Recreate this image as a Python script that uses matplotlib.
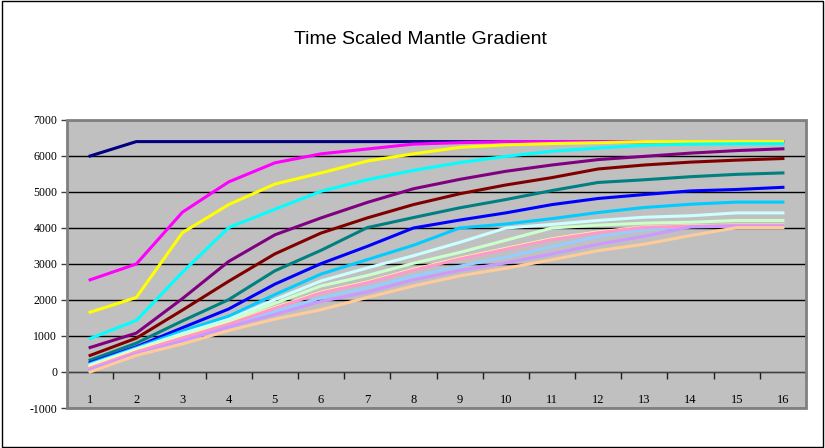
import matplotlib.pyplot as plt
from matplotlib.patches import Rectangle
import numpy as np

plt.rcParams['axes.unicode_minus'] = False

CATEGORIES = list(range(1, 17))
TITLE = "Time Scaled Mantle Gradient"

# one list per series, in Excel default line colour order
navy = [6000, 6400, 6400, 6400, 6400, 6400, 6400, 6400, 6400, 6400, 6400, 6400, 6400, 6400, 6400, 6400]
magenta = [2560, 3000, 4440, 5280, 5810, 6060, 6195, 6330, 6370, 6400, 6400, 6400, 6400, 6400, 6400, 6400]
yellow = [1660, 2070, 3870, 4650, 5220, 5530, 5860, 6060, 6240, 6310, 6345, 6370, 6400, 6400, 6400, 6400]
cyan = [930, 1430, 2770, 4010, 4520, 5020, 5340, 5600, 5815, 5990, 6130, 6220, 6300, 6330, 6340, 6340]
purple = [680, 1080, 2040, 3070, 3810, 4280, 4710, 5090, 5350, 5575, 5750, 5900, 5990, 6080, 6150, 6200]
maroon = [460, 940, 1720, 2520, 3280, 3860, 4280, 4650, 4950, 5195, 5400, 5640, 5750, 5830, 5885, 5930]
teal = [330, 800, 1420, 2010, 2810, 3380, 4010, 4290, 4560, 4790, 5040, 5265, 5340, 5425, 5490, 5530]
blue = [260, 700, 1230, 1750, 2440, 3010, 3490, 4000, 4220, 4420, 4650, 4820, 4930, 5030, 5070, 5130]
sky_blue = [230, 670, 1140, 1550, 2150, 2720, 3120, 3520, 4000, 4110, 4260, 4430, 4570, 4660, 4720, 4720]
light_cyan = [200, 640, 1070, 1460, 2010, 2530, 2890, 3230, 3600, 4000, 4100, 4210, 4300, 4340, 4420, 4420]
light_green = [170, 610, 1010, 1410, 1910, 2390, 2680, 3020, 3320, 3660, 4000, 4080, 4135, 4160, 4210, 4210]
light_yellow = [140, 590, 970, 1350, 1790, 2220, 2500, 2850, 3160, 3430, 3700, 3890, 4030, 4060, 4080, 4080]
light_blue = [90, 530, 900, 1280, 1680, 2060, 2340, 2660, 2940, 3190, 3480, 3760, 3950, 4040, 4060, 4060]
pink = [110, 560, 950, 1330, 1770, 2200, 2480, 2830, 3140, 3410, 3680, 3870, 4020, 4050, 4070, 4070]
lavender = [60, 500, 860, 1250, 1600, 1960, 2220, 2560, 2820, 3030, 3280, 3550, 3770, 4030, 4050, 4050]
peach = [0, 460, 780, 1150, 1470, 1730, 2070, 2390, 2670, 2880, 3120, 3370, 3550, 3790, 4010, 4010]

SERIES = [navy, magenta, yellow, cyan, purple, maroon, teal, blue, sky_blue,
          light_cyan, light_green, light_yellow, light_blue, pink, lavender, peach]
COLORS = ['#000080', '#FF00FF', '#FFFF00', '#00FFFF', '#800080', '#800000', '#008080', '#0000FF',
          '#00CCFF', '#CCFFFF', '#CCFFCC', '#FFFF99', '#99CCFF', '#FF99CC', '#CC99FF', '#FFCC99']

fig = plt.figure(figsize=(8.25, 4.48), dpi=100)
ax = fig.add_axes([67 / 825, 1 - 408 / 448, 739 / 825, 288 / 448])
ax.set_facecolor('#C0C0C0')

for vals, c in zip(SERIES, COLORS):
    ax.plot(CATEGORIES, vals, color=c, lw=2.2, solid_joinstyle='miter', zorder=3)

ax.set_xlim(0.5, 16.5)
ax.set_ylim(-1000, 7000)
ax.set_yticks(np.arange(-1000, 7001, 1000))
ax.yaxis.grid(True, color='black', lw=1)
ax.set_axisbelow(True)

serif = 'Liberation Serif'
ax.tick_params(axis='y', length=4, width=1, color='#404040', pad=3, labelsize=8.5)
for t in ax.get_yticklabels():
    t.set_family(serif)

# category axis crosses at zero, labels sit low inside the plot area
ax.spines['bottom'].set_position(('data', 0))
ax.spines['bottom'].set_color('#404040')
ax.set_xticks(np.arange(0.5, 17, 1))
ax.set_xticklabels([])
ax.tick_params(axis='x', length=5, width=1, color='#202020', direction='out')
for c in CATEGORIES:
    ax.text(c, -780, str(c), ha='center', va='center', fontsize=9, family=serif)

ax.spines['left'].set_color('#404040')
ax.spines['top'].set_visible(False)
ax.spines['right'].set_visible(False)
ax.add_patch(Rectangle((0, 0), 1, 1, transform=ax.transAxes, fill=False,
                       edgecolor='#808080', lw=2, zorder=5, clip_on=False))

fig.text(420 / 825, 1 - 40 / 448, TITLE, ha='center', va='center', fontsize=14,
         family='Liberation Sans')
fig.add_artist(Rectangle((0.002, 0.003), 0.996, 0.994, transform=fig.transFigure,
                         fill=False, edgecolor='black', lw=1))

fig.savefig('out.png', dpi=100)
